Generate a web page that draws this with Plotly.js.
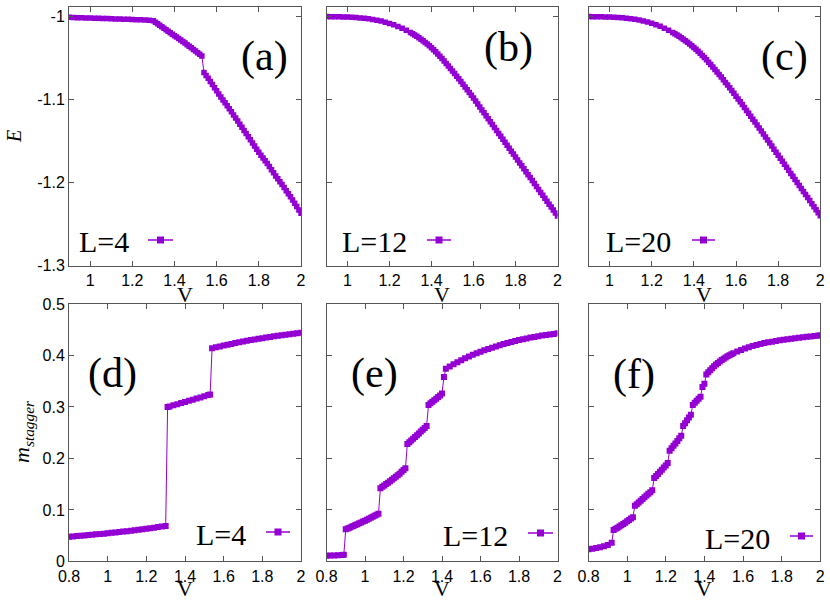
<!DOCTYPE html>
<html>
<head>
<meta charset="utf-8">
<script src="https://cdn.plot.ly/plotly-3.0.1.min.js"></script>
<style>
  html, body { margin: 0; padding: 0; background: #fff; }
  #grafico { width: 830px; height: 603px; }
</style>
</head>
<body>
<div id="grafico"></div>
<script>
// Energia E(V) y magnetizacion alternada m_stagger(V) para L=4, 12, 20

// --- fila superior: E (paso 0.02 en la zona plana, 0.01 en la zona de caida) ---
const vTop = [0.90,0.92,0.94,0.96,0.98,1.00,1.02,1.04,1.06,1.08,1.10,1.12,1.14,1.16,1.18,1.20,1.22,1.24,1.26,1.28,
  1.30,1.31,1.32,1.33,1.34,1.35,1.36,1.37,1.38,1.39,1.40,1.41,1.42,1.43,1.44,1.45,1.46,1.47,1.48,1.49,
  1.50,1.51,1.52,1.53,1.54,1.55,1.56,1.57,1.58,1.59,1.60,1.61,1.62,1.63,1.64,1.65,1.66,1.67,1.68,1.69,
  1.70,1.71,1.72,1.73,1.74,1.75,1.76,1.77,1.78,1.79,1.80,1.81,1.82,1.83,1.84,1.85,1.86,1.87,1.88,1.89,
  1.90,1.91,1.92,1.93,1.94,1.95,1.96,1.97,1.98,1.99,2.00];

const eA = [-1.0010,-1.0012,-1.0014,-1.0015,-1.0017,-1.0019,-1.0020,-1.0022,-1.0024,-1.0025,-1.0027,-1.0029,-1.0030,-1.0032,-1.0034,-1.0036,-1.0038,-1.0040,-1.0042,-1.0044,
  -1.0050,-1.0068,-1.0086,-1.0104,-1.0122,-1.0140,-1.0158,-1.0176,-1.0194,-1.0212,-1.0230,-1.0248,-1.0266,-1.0284,-1.0302,-1.0320,-1.0339,-1.0358,-1.0377,-1.0396,
  -1.0415,-1.0435,-1.0455,-1.0475,-1.0675,-1.0710,-1.0745,-1.0783,-1.0820,-1.0858,-1.0895,-1.0933,-1.0970,-1.1005,-1.1040,-1.1075,-1.1110,-1.1148,-1.1185,-1.1223,
  -1.1260,-1.1298,-1.1335,-1.1373,-1.1410,-1.1448,-1.1485,-1.1523,-1.1560,-1.1598,-1.1635,-1.1670,-1.1705,-1.1738,-1.1770,-1.1808,-1.1845,-1.1883,-1.1920,-1.1955,
  -1.1990,-1.2025,-1.2060,-1.2098,-1.2135,-1.2173,-1.2210,-1.2250,-1.2290,-1.2330,-1.2370];

const eB = [-1.0000,-1.0001,-1.0002,-1.0003,-1.0005,-1.0007,-1.0010,-1.0013,-1.0017,-1.0022,-1.0028,-1.0035,-1.0044,-1.0055,-1.0068,-1.0083,-1.0100,-1.0120,-1.0142,-1.0166,
  -1.0192,-1.0207,-1.0222,-1.0238,-1.0255,-1.0273,-1.0292,-1.0312,-1.0332,-1.0353,-1.0375,-1.0400,-1.0425,-1.0451,-1.0478,-1.0506,-1.0535,-1.0565,-1.0595,-1.0625,
  -1.0655,-1.0686,-1.0718,-1.0750,-1.0782,-1.0815,-1.0848,-1.0881,-1.0915,-1.0949,-1.0983,-1.1018,-1.1054,-1.1089,-1.1125,-1.1160,-1.1196,-1.1231,-1.1267,-1.1302,
  -1.1338,-1.1373,-1.1409,-1.1444,-1.1480,-1.1515,-1.1551,-1.1586,-1.1622,-1.1657,-1.1693,-1.1728,-1.1764,-1.1799,-1.1835,-1.1870,-1.1906,-1.1941,-1.1977,-1.2012,
  -1.2048,-1.2083,-1.2119,-1.2154,-1.2190,-1.2225,-1.2261,-1.2296,-1.2332,-1.2367,-1.2403];

const eC = [-1.0000,-1.0001,-1.0002,-1.0003,-1.0004,-1.0006,-1.0008,-1.0011,-1.0015,-1.0020,-1.0026,-1.0033,-1.0042,-1.0053,-1.0066,-1.0081,-1.0098,-1.0118,-1.0140,-1.0165,
  -1.0192,-1.0207,-1.0222,-1.0238,-1.0255,-1.0273,-1.0291,-1.0310,-1.0330,-1.0351,-1.0372,-1.0395,-1.0418,-1.0443,-1.0468,-1.0495,-1.0522,-1.0550,-1.0579,-1.0608,
  -1.0638,-1.0668,-1.0699,-1.0730,-1.0762,-1.0794,-1.0826,-1.0859,-1.0892,-1.0925,-1.0959,-1.0993,-1.1027,-1.1061,-1.1096,-1.1131,-1.1166,-1.1201,-1.1237,-1.1272,
  -1.1308,-1.1343,-1.1379,-1.1415,-1.1452,-1.1488,-1.1525,-1.1561,-1.1598,-1.1634,-1.1671,-1.1707,-1.1744,-1.1780,-1.1817,-1.1853,-1.1890,-1.1926,-1.1963,-1.1999,
  -1.2036,-1.2072,-1.2109,-1.2145,-1.2182,-1.2218,-1.2255,-1.2291,-1.2328,-1.2364,-1.2401];

// --- fila inferior: m_stagger ---
const vD = [0.80,0.82,0.84,0.86,0.88,0.90,0.92,0.94,0.96,0.98,1.00,1.02,1.04,1.06,1.08,1.10,1.12,1.14,1.16,1.18,1.20,1.22,1.24,1.26,1.28,1.30,
  1.31,1.32,1.34,1.36,1.38,1.40,1.42,1.44,1.46,1.48,1.50,1.52,1.53,
  1.54,1.56,1.58,1.60,1.62,1.64,1.66,1.68,1.70,1.72,1.74,1.76,1.78,1.80,1.82,1.84,1.86,1.88,1.90,1.92,1.94,1.96,1.98,2.00];
const mD = [0.0480,0.0486,0.0492,0.0498,0.0504,0.0511,0.0518,0.0525,0.0532,0.0539,0.0547,0.0555,0.0563,0.0571,0.0579,0.0588,0.0597,0.0606,0.0615,0.0625,0.0635,0.0645,0.0656,0.0667,0.0678,0.0690,
  0.3000,0.3010,0.3032,0.3054,0.3076,0.3098,0.3120,0.3142,0.3164,0.3186,0.3208,0.3230,0.3240,
  0.4140,0.4158,0.4175,0.4192,0.4209,0.4225,0.4241,0.4256,0.4271,0.4285,0.4299,0.4312,0.4325,0.4337,0.4349,0.4361,0.4372,0.4383,0.4394,0.4404,0.4414,0.4424,0.4433,0.4442];

const vE = [0.80,0.82,0.84,0.86,0.88,0.89,
  0.90,0.91,0.92,0.93,0.94,0.95,0.96,0.97,0.98,0.99,1.00,1.01,1.02,1.03,1.04,1.05,1.06,1.07,
  1.08,1.09,1.10,1.11,1.12,1.13,1.14,1.15,1.16,1.17,1.18,1.19,1.20,1.21,
  1.22,1.23,1.24,1.25,1.26,1.27,1.28,1.29,1.30,1.31,1.32,
  1.33,1.34,1.35,1.36,1.37,1.38,1.39,1.40,
  1.41,
  1.42,1.44,1.46,1.48,1.50,1.52,1.54,1.56,1.58,1.60,1.62,1.64,1.66,1.68,1.70,1.72,1.74,1.76,1.78,1.80,1.82,1.84,1.86,1.88,1.90,1.92,1.94,1.96,1.98,2.00];
const mE = [0.0110,0.0113,0.0116,0.0120,0.0124,0.0127,
  0.0625,0.0640,0.0655,0.0671,0.0688,0.0705,0.0722,0.0739,0.0757,0.0774,0.0792,0.0810,0.0828,0.0847,0.0866,0.0885,0.0905,0.0925,
  0.1420,0.1448,0.1475,0.1503,0.1530,0.1558,0.1585,0.1615,0.1645,0.1675,0.1705,0.1740,0.1775,0.1810,
  0.2280,0.2314,0.2348,0.2382,0.2416,0.2451,0.2486,0.2521,0.2556,0.2593,0.2630,
  0.3040,0.3070,0.3100,0.3130,0.3160,0.3192,0.3225,0.3260,
  0.3580,
  0.3740,0.3785,0.3828,0.3869,0.3908,0.3945,0.3980,0.4013,0.4044,0.4073,0.4101,0.4127,0.4152,0.4176,0.4199,0.4221,0.4242,0.4262,0.4281,0.4299,0.4316,0.4332,0.4347,0.4361,0.4374,0.4386,0.4397,0.4408,0.4419,0.4430];

const vF = [0.80,0.82,0.84,0.86,0.88,0.90,0.92,
  0.93,0.94,0.95,0.96,0.97,0.98,0.99,1.00,1.01,1.02,1.03,
  1.04,1.05,1.06,1.07,1.08,1.09,1.10,1.11,1.12,1.13,
  1.14,1.15,1.16,1.17,1.18,1.19,1.20,1.21,
  1.22,1.23,1.24,1.25,1.26,1.27,1.28,
  1.29,1.30,1.31,1.32,1.33,
  1.34,1.35,1.36,1.37,1.38,
  1.39,1.40,
  1.41,1.42,1.43,1.44,1.45,1.46,1.47,1.48,1.49,1.50,1.51,1.52,1.53,1.54,1.55,
  1.57,1.59,1.61,1.63,1.65,1.67,1.69,1.71,1.73,1.75,1.77,1.79,1.81,1.83,1.85,1.87,1.89,1.91,1.93,1.95,1.97,1.99,2.00];
const mF = [0.0235,0.0247,0.0261,0.0277,0.0296,0.0318,0.0360,
  0.0610,0.0632,0.0655,0.0679,0.0703,0.0728,0.0753,0.0779,0.0805,0.0832,0.0860,
  0.1080,0.1112,0.1145,0.1177,0.1210,0.1245,0.1280,0.1312,0.1345,0.1380,
  0.1620,0.1660,0.1700,0.1740,0.1780,0.1822,0.1865,0.1910,
  0.2150,0.2197,0.2245,0.2292,0.2340,0.2390,0.2440,
  0.2630,0.2685,0.2740,0.2795,0.2850,
  0.3040,0.3080,0.3120,0.3160,0.3200,
  0.3390,0.3450,
  0.3630,0.3673,0.3715,0.3753,0.3790,0.3823,0.3855,0.3884,0.3912,0.3937,0.3962,0.3984,0.4006,0.4025,0.4043,
  0.4077,0.4107,0.4135,0.4160,0.4183,0.4204,0.4223,0.4240,0.4255,0.4269,0.4282,0.4294,0.4305,0.4316,0.4326,0.4336,0.4345,0.4354,0.4363,0.4371,0.4379,0.4386,0.4390];

// ticks y etiquetas
const ticksXSup = [1, 1.2, 1.4, 1.6, 1.8, 2];
const textXSup = ['1', '1.2', '1.4', '1.6', '1.8', '2'];
const ticksXInf = [0.8, 1, 1.2, 1.4, 1.6, 1.8, 2];
const textXInf = ['0.8', '1', '1.2', '1.4', '1.6', '1.8', '2'];
const ticksE = [-1.3, -1.2, -1.1, -1];
const textE = ['-1.3', '-1.2', '-1.1', '-1'];
const ticksM = [0, 0.1, 0.2, 0.3, 0.4, 0.5];
const textM = ['0', '0.1', '0.2', '0.3', '0.4', '0.5'];

const etiquetasPanel = ['(a)', '(b)', '(c)', '(d)', '(e)', '(f)'];
const etiquetasL = ['L=4', 'L=12', 'L=20', 'L=4', 'L=12', 'L=20'];

// ---------------------------------------------------------------
const W = 830, H = 603;
const px = x => x / W;
const py = y => 1 - y / H;
const violeta = '#9400d3';
const sans = 'Liberation Sans, Arial, sans-serif';
const serif = 'Liberation Serif, Times New Roman, serif';

function serie(x, y, n, tam) {
  const s = n === 1 ? '' : n;
  return {
    x: x, y: y, xaxis: 'x' + s, yaxis: 'y' + s,
    type: 'scatter', mode: 'lines+markers',
    line: { color: violeta, width: 1 },
    marker: { symbol: 'square', size: tam, color: violeta },
    showlegend: false, hoverinfo: 'x+y'
  };
}

const trazas = [
  serie(vTop, eA, 1, 5.5), serie(vTop, eB, 2, 5.5), serie(vTop, eC, 3, 5.5),
  serie(vD, mD, 4, 6), serie(vE, mE, 5, 6), serie(vF, mF, 6, 6)
];

// dominios en pixeles de cada panel
const colX = [[69, 301], [326.5, 557.5], [588.5, 820.3]];
const filaY = [[7, 265.5], [304, 561.4]];

function eje(dom, anchor, range, tv, tt, etiquetas) {
  return {
    domain: dom, anchor: anchor, range: range,
    tickvals: tv, ticktext: tt, showticklabels: etiquetas,
    ticks: 'inside', ticklen: 5, tickcolor: '#555',
    showline: true, mirror: 'ticks', linecolor: '#555', linewidth: 1,
    showgrid: false, zeroline: false,
    tickfont: { family: sans, size: 16, color: '#000' }
  };
}

const layout = {
  width: W, height: H,
  margin: { l: 0, r: 0, t: 0, b: 0 },
  paper_bgcolor: '#fff', plot_bgcolor: '#fff',
  showlegend: false,
  annotations: [], shapes: []
};

for (let i = 0; i < 6; i++) {
  const n = i + 1;
  const fila = i < 3 ? 0 : 1;
  const col = i % 3;
  const sx = n === 1 ? '' : n;
  const xd = [px(colX[col][0]), px(colX[col][1])];
  const yd = [py(filaY[fila][1]), py(filaY[fila][0])];
  layout['xaxis' + sx] = eje(xd, 'y' + sx,
    fila === 0 ? [0.9, 2] : [0.8, 2],
    fila === 0 ? ticksXSup : ticksXInf,
    fila === 0 ? textXSup : textXInf, true);
  layout['yaxis' + sx] = eje(yd, 'x' + sx,
    fila === 0 ? [-1.3, -0.9885] : [0, 0.5],
    fila === 0 ? ticksE : ticksM,
    fila === 0 ? textE : textM, col === 0);
}

// etiquetas de panel (a)...(f)
const posPanel = [[264, 56], [508, 48], [784, 56], [112, 373], [374, 373], [634, 375]];
posPanel.forEach((p, i) => {
  layout.annotations.push({
    xref: 'paper', yref: 'paper', x: px(p[0]), y: py(p[1]),
    xanchor: 'center', yanchor: 'middle', showarrow: false,
    text: etiquetasPanel[i], font: { family: serif, size: 42, color: '#000' }
  });
});

// leyendas: texto a la izquierda, muestra de linea+simbolo a la derecha
const posLeyenda = [
  [131, 148, 173, 240], [409, 427, 451, 240], [673, 692, 715, 240],
  [248, 266, 290, 532], [510, 528, 553, 533], [772, 790, 813, 536]
];
posLeyenda.forEach((p, i) => {
  layout.annotations.push({
    xref: 'paper', yref: 'paper', x: px(p[0]), y: py(p[3] + 2),
    xanchor: 'right', yanchor: 'middle', showarrow: false,
    text: etiquetasL[i], font: { family: serif, size: 30, color: '#000' }
  });
  layout.shapes.push({
    type: 'line', xref: 'paper', yref: 'paper',
    x0: px(p[1]), x1: px(p[2]), y0: py(p[3]), y1: py(p[3]),
    line: { color: violeta, width: 1.5 }
  });
  const c = (p[1] + p[2]) / 2;
  layout.shapes.push({
    type: 'rect', xref: 'paper', yref: 'paper',
    x0: px(c - 3.5), x1: px(c + 3.5), y0: py(p[3] - 3.5), y1: py(p[3] + 3.5),
    fillcolor: violeta, line: { width: 0 }
  });
});

// titulos de ejes
const posV = [[185, 294], [442, 294], [704, 294], [185, 588], [442, 588], [704, 588]];
posV.forEach(p => {
  layout.annotations.push({
    xref: 'paper', yref: 'paper', x: px(p[0]), y: py(p[1]),
    xanchor: 'center', yanchor: 'middle', showarrow: false,
    text: 'V', font: { family: serif, size: 22, color: '#000' }
  });
});
layout.annotations.push({
  xref: 'paper', yref: 'paper', x: px(14), y: py(137),
  xanchor: 'center', yanchor: 'middle', showarrow: false, textangle: -90,
  text: '<i>E</i>', font: { family: serif, size: 20, color: '#000' }
});
layout.annotations.push({
  xref: 'paper', yref: 'paper', x: px(23), y: py(432),
  xanchor: 'center', yanchor: 'middle', showarrow: false, textangle: -90,
  text: '<i>m</i><sub><i>stagger</i></sub>', font: { family: serif, size: 22, color: '#000' }
});

Plotly.newPlot('grafico', trazas, layout, { staticPlot: true });
</script>
</body>
</html>
